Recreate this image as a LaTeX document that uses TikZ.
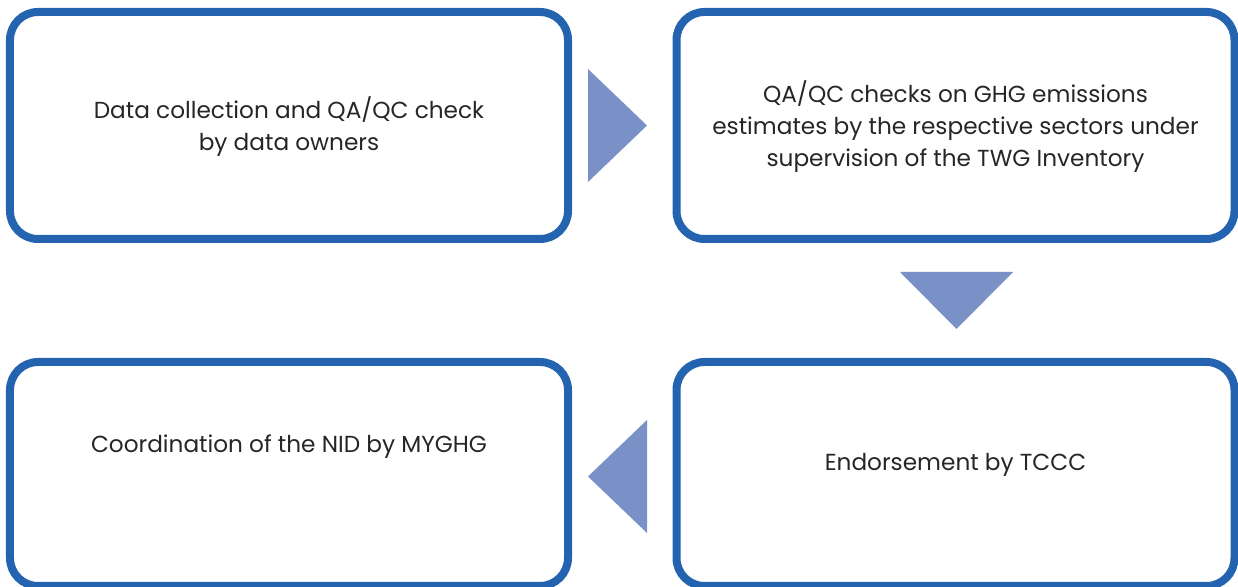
\documentclass[tikz,border=0pt]{standalone}
\usepackage{fontspec}
\setmainfont{Poppins}
\definecolor{boxblue}{RGB}{36,99,175}
\definecolor{arrowblue}{RGB}{122,145,200}
\definecolor{textgray}{RGB}{38,38,38}

\begin{document}
\begin{tikzpicture}[
  box/.style = {draw = boxblue, line width = 0.08cm, rounded corners = 0.28cm,
                minimum width = 5.58cm, inner sep = 0pt, outer sep = 0pt},
  txt/.style = {text = textgray, align = center, inner sep = 0pt,
                font = \fontsize{6.6}{9.1}\selectfont},
  tri/.style = {fill = arrowblue}
]

\useasboundingbox (0,0) rectangle (12.38,-5.87);

\node[box, minimum height = 2.27cm] (collect) at (2.89,-1.255) {};
\node[box, minimum height = 2.27cm] (checks) at (9.555,-1.255) {};
\node[box, minimum height = 2.24cm] (coord) at (2.89,-4.74) {};
\node[box, minimum height = 2.24cm] (endorse) at (9.555,-4.74) {};

\node[txt] (collecttext) at ([yshift=-0.015cm]collect.center) {Data collection and QA/QC check\\by data owners};
\node[txt] (checkstext) at ([yshift=-0.015cm]checks.center) {QA/QC checks on GHG emissions\\estimates by the respective sectors under\\supervision of the TWG Inventory};
\node[txt] (coordtext) at ([yshift=0.27cm]coord.center) {Coordination of the NID by MYGHG};
\node[txt] (endorsetext) at ([yshift=0.09cm]endorse.center) {Endorsement by TCCC};

\fill[tri] (5.88,-0.69) -- (5.88,-1.82) -- (6.47,-1.255) -- cycle;
\fill[tri] (9.00,-2.72) -- (10.13,-2.72) -- (9.565,-3.29) -- cycle;
\fill[tri] (6.47,-4.20) -- (6.47,-5.33) -- (5.88,-4.765) -- cycle;

\end{tikzpicture}
\end{document}
